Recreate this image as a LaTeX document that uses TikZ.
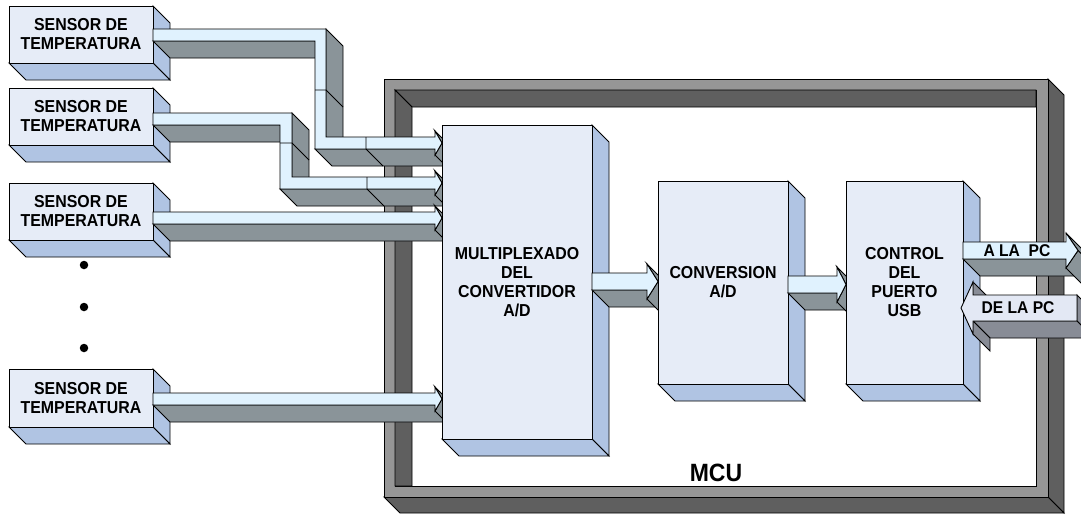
\documentclass[tikz,border=0pt]{standalone}
\usepackage{fontspec}
\setmainfont{Liberation Sans}[FakeStretch=0.92]
\usetikzlibrary{calc}
\definecolor{boxfront}{HTML}{E6ECF7}
\definecolor{boxsidec}{HTML}{B0C4E3}
\definecolor{arrlight}{HTML}{E0F2FE}
\definecolor{arrgray}{HTML}{8A9499}
\definecolor{framelight}{HTML}{969696}
\definecolor{framedark}{HTML}{5F5F5F}
\definecolor{inlight}{HTML}{E3E8F4}
\definecolor{ingray}{HTML}{888C96}
\tikzset{
  ln/.style={draw=black, line width=0.9pt},
  sideface/.style={ln, fill=boxsidec},
  frontface/.style={ln, fill=boxfront},
  agface/.style={ln, fill=arrgray},
  alface/.style={ln, fill=arrlight},
  igface/.style={ln, fill=ingray},
  ilface/.style={ln, fill=inlight},
  fdark/.style={ln, fill=framedark},
  flight/.style={ln, fill=framelight},
  boxtext/.style={align=center, inner sep=0pt, font=\fontsize{17.3}{19}\selectfont\bfseries},
  arrtext/.style={inner sep=0pt, font=\fontsize{17}{19}\selectfont\bfseries},
  dotmark/.style={circle, fill=black, inner sep=0pt, minimum size=8.5pt},
}
% side face of an extruded edge: depth (17,17) to the lower right
\newcommand\qface[3]{\filldraw[#1] #2 -- #3 -- ($#3+(17,17)$) -- ($#2+(17,17)$) -- cycle;}
% 3D block: name, x1, y1, x2, y2, text
\newcommand\blockbox[6]{%
  \filldraw[sideface] (#4,#3) -- ++(17,17) -- ++(0,{#5-#3}) -- (#4,#5) -- cycle;
  \filldraw[sideface] (#2,#5) -- (#4,#5) -- ++(17,17) -- ++({#2-#4},0) -- cycle;
  \filldraw[frontface] (#2,#3) rectangle (#4,#5);
  \node[boxtext] (#1) at ({(#2+#4)/2},{(#3+#5)/2}) {#6};
}
\begin{document}
\begin{tikzpicture}[x=1pt,y=-1pt]
\useasboundingbox (0,0) rectangle (1081,514);
\clip (0,0) rectangle (1081,514);

% ---------- MCU frame ----------
\filldraw[fdark] (1048,79) -- (1064,95) -- (1064,513) -- (1048,497) -- cycle;
\filldraw[fdark] (384,497) -- (1048,497) -- (1064,513) -- (400,513) -- cycle;
\filldraw[flight, even odd rule] (384,79) rectangle (1048,497) (395,90) rectangle (1036,486);
\filldraw[fdark] (395,90) -- (1036,90) -- (1036,107) -- (412,107) -- cycle;
\filldraw[fdark] (395,90) -- (412,107) -- (412,486) -- (395,486) -- cycle;
\node[inner sep=0pt, font=\fontsize{25}{28}\selectfont\bfseries] (mcu) at (716,472.5) {MCU};

% ---------- sensors ----------
\blockbox{s1}{9}{6}{153}{63}{SENSOR DE\\TEMPERATURA}
\blockbox{s2}{9}{88}{153}{145}{SENSOR DE\\TEMPERATURA}
\blockbox{s3}{9}{183}{153}{240}{SENSOR DE\\TEMPERATURA}
\blockbox{s4}{9}{369}{153}{427}{SENSOR DE\\TEMPERATURA}
\node[dotmark] (d1) at (84,265) {};
\node[dotmark] (d2) at (84,307) {};
\node[dotmark] (d3) at (84,348) {};

% ---------- sensor arrows ----------
% arrow 1
\qface{agface}{(153,41)}{(315,41)}
\qface{agface}{(326,29)}{(326,137)}
\qface{agface}{(315,149)}{(435,149)}
\qface{agface}{(435,131)}{(442,143)}
\qface{agface}{(442,143)}{(435,155)}
\filldraw[alface] (153,29) -- (326,29) -- (326,137) -- (435,137) -- (435,131) -- (442,143) -- (435,155) -- (435,149) -- (315,149) -- (315,41) -- (153,41) -- cycle;
\draw[ln] (315,90) -- (326,90) -- (343,107);
\draw[ln] (366,137) -- (366,149) -- (383,166);
% arrow 2
\qface{agface}{(153,125)}{(280,125)}
\qface{agface}{(292,113)}{(292,177)}
\qface{agface}{(280,189)}{(435,189)}
\qface{agface}{(435,171)}{(442,183)}
\qface{agface}{(442,183)}{(435,195)}
\filldraw[alface] (153,113) -- (292,113) -- (292,177) -- (435,177) -- (435,171) -- (442,183) -- (435,195) -- (435,189) -- (280,189) -- (280,125) -- (153,125) -- cycle;
\draw[ln] (280,143) -- (292,143) -- (309,160);
\draw[ln] (367,177) -- (367,189) -- (384,206);
% arrow 3
\qface{agface}{(153,224)}{(435,224)}
\qface{agface}{(435,206)}{(442,218)}
\qface{agface}{(442,218)}{(435,230)}
\filldraw[alface] (153,212) -- (435,212) -- (435,206) -- (442,218) -- (435,230) -- (435,224) -- (153,224) -- cycle;
% arrow 4
\qface{agface}{(153,405)}{(435,405)}
\qface{agface}{(435,387)}{(442,399)}
\qface{agface}{(442,399)}{(435,411)}
\filldraw[alface] (153,393) -- (435,393) -- (435,387) -- (442,399) -- (435,411) -- (435,405) -- (153,405) -- cycle;

% ---------- multiplexer ----------
\blockbox{mux}{442}{125}{592}{439}{MULTIPLEXADO\\DEL\\CONVERTIDOR\\A/D}

% mux -> conversion
\qface{agface}{(592,290)}{(647,290)}
\qface{agface}{(647,264)}{(658,281.5)}
\qface{agface}{(658,281.5)}{(647,299)}
\filldraw[alface] (592,273) -- (647,273) -- (647,264) -- (658,281.5) -- (647,299) -- (647,290) -- (592,290) -- cycle;

\blockbox{conv}{658}{181}{788}{384}{CONVERSION\\A/D}

% conversion -> control
\qface{agface}{(788,293)}{(837,293)}
\qface{agface}{(837,267)}{(846,284.5)}
\qface{agface}{(846,284.5)}{(837,302)}
\filldraw[alface] (788,276) -- (837,276) -- (837,267) -- (846,284.5) -- (837,302) -- (837,293) -- (788,293) -- cycle;

\blockbox{ctrl}{846}{181}{963}{384}{CONTROL\\DEL\\PUERTO\\USB}

% A LA PC
\qface{agface}{(963,259)}{(1066,259)}
\qface{agface}{(1066,233)}{(1078,250.5)}
\qface{agface}{(1078,250.5)}{(1066,268)}
\filldraw[alface] (963,242) -- (1066,242) -- (1066,233) -- (1078,250.5) -- (1066,268) -- (1066,259) -- (963,259) -- cycle;
\node[arrtext] (alapc) at (1017,250.5) {A LA\ \ PC};

% DE LA PC
\qface{igface}{(1077,295)}{(1077,321)}
\qface{igface}{(973,321)}{(1077,321)}
\qface{igface}{(973,282)}{(973,295)}
\qface{igface}{(973,321)}{(973,334)}
\filldraw[ilface] (1077,295) -- (973,295) -- (973,282) -- (961,308) -- (973,334) -- (973,321) -- (1077,321) -- cycle;
\node[arrtext] (delapc) at (1018,308) {DE LA PC};
\end{tikzpicture}
\end{document}
